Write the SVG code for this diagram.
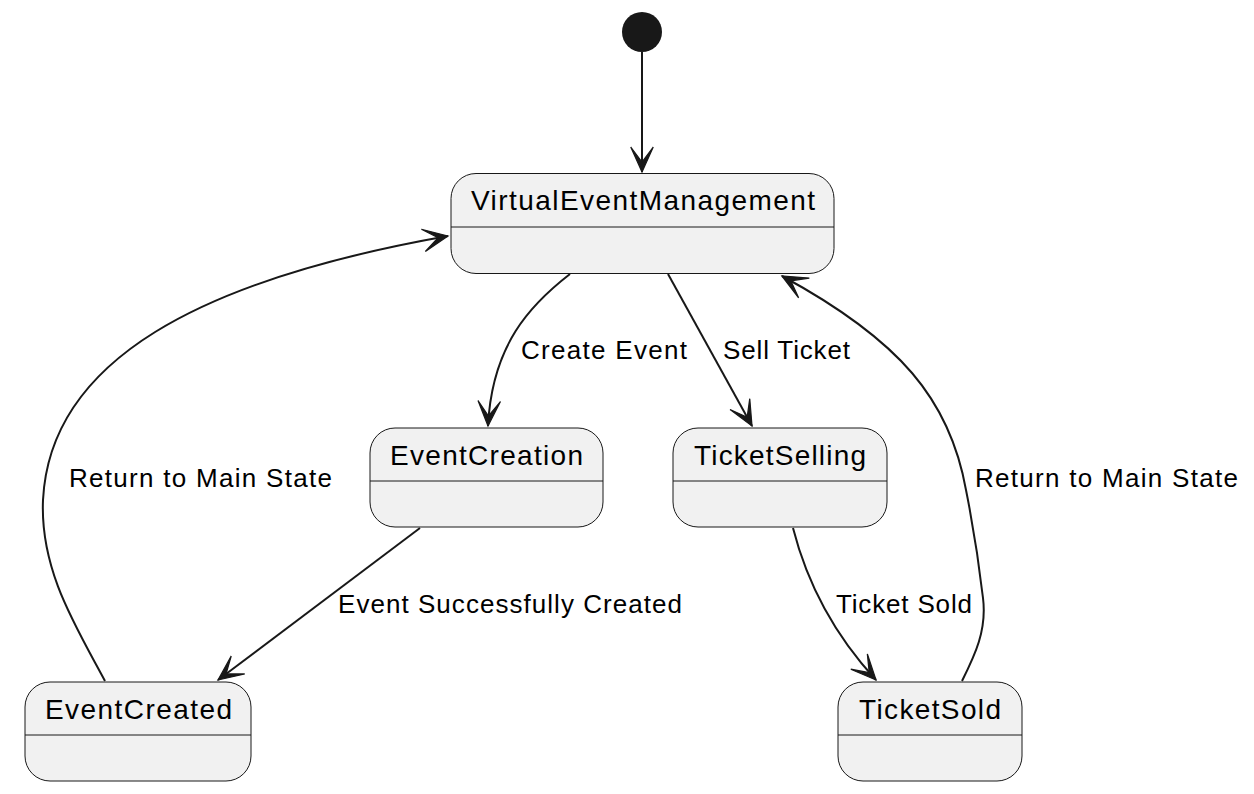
<svg xmlns="http://www.w3.org/2000/svg" width="1254" height="794" viewBox="0 0 1254 794">
<style>
.box{fill:#F1F1F1;stroke:#181818;stroke-width:1}
.div{stroke:#181818;stroke-width:1}
.name{font-family:"Liberation Sans",Arial,sans-serif;font-size:28px;fill:#000;text-anchor:middle}
.lbl{font-family:"Liberation Sans",Arial,sans-serif;font-size:26px;fill:#000}
.edge{fill:none;stroke:#181818;stroke-width:2}
</style>
<defs>
<marker id="arr" markerUnits="userSpaceOnUse" markerWidth="30" markerHeight="30" viewBox="-22 -11 24 22" refX="0" refY="0" orient="auto">
<path d="M0,0 L-20,-9 L-8,0 L-20,9 Z" fill="#181818" stroke="#181818" stroke-width="1" stroke-linejoin="miter"/>
</marker>
</defs>
<rect width="1254" height="794" fill="#FFFFFF"/>
<g id="start"><circle cx="642" cy="32" r="20" fill="#181818"/></g>
<g id="VirtualEventManagement">
<rect class="box" x="451" y="173.5" width="383" height="100" rx="25" ry="25"/>
<line class="div" x1="451" y1="227" x2="834" y2="227"/>
<text class="name" x="643" y="210" textLength="344" lengthAdjust="spacing">VirtualEventManagement</text>
</g>
<g id="EventCreation">
<rect class="box" x="370" y="428" width="233" height="99" rx="25" ry="25"/>
<line class="div" x1="370" y1="481" x2="603" y2="481"/>
<text class="name" x="486.5" y="465" textLength="193" lengthAdjust="spacing">EventCreation</text>
</g>
<g id="TicketSelling">
<rect class="box" x="673" y="428" width="214" height="99" rx="25" ry="25"/>
<line class="div" x1="673" y1="481" x2="887" y2="481"/>
<text class="name" x="780" y="465" textLength="172" lengthAdjust="spacing">TicketSelling</text>
</g>
<g id="EventCreated">
<rect class="box" x="25" y="682" width="226" height="99" rx="25" ry="25"/>
<line class="div" x1="25" y1="735" x2="251" y2="735"/>
<text class="name" x="138.5" y="719" textLength="187" lengthAdjust="spacing">EventCreated</text>
</g>
<g id="TicketSold">
<rect class="box" x="838" y="682" width="184" height="99" rx="25" ry="25"/>
<line class="div" x1="838" y1="735" x2="1022" y2="735"/>
<text class="name" x="930" y="719" textLength="142" lengthAdjust="spacing">TicketSold</text>
</g>
<g id="connectors">
<path class="edge" d="M642,52 L642,172" marker-end="url(#arr)"/>
<path class="edge" d="M570,274 C530,305 492,345 488,426" marker-end="url(#arr)"/>
<text class="lbl" x="521" y="359" textLength="166" lengthAdjust="spacing">Create Event</text>
<path class="edge" d="M668,274 L752,426" marker-end="url(#arr)"/>
<text class="lbl" x="723" y="359" textLength="127" lengthAdjust="spacing">Sell Ticket</text>
<path class="edge" d="M420,528 L218,680" marker-end="url(#arr)"/>
<text class="lbl" x="338" y="613" textLength="344" lengthAdjust="spacing">Event Successfully Created</text>
<path class="edge" d="M793,528 C805,575 830,630 876,680" marker-end="url(#arr)"/>
<text class="lbl" x="836" y="613" textLength="136" lengthAdjust="spacing">Ticket Sold</text>
<path class="edge" d="M105,681 C75,625 40,570 43,500 C50,360 200,280 448,236" marker-end="url(#arr)"/>
<text class="lbl" x="69" y="487" textLength="263" lengthAdjust="spacing">Return to Main State</text>
<path class="edge" d="M962,681 C975,655 987,630 983,598 C978,555 972,520 966,490 C950,400 900,340 782,276" marker-end="url(#arr)"/>
<text class="lbl" x="975" y="487" textLength="263" lengthAdjust="spacing">Return to Main State</text>
</g>
</svg>
